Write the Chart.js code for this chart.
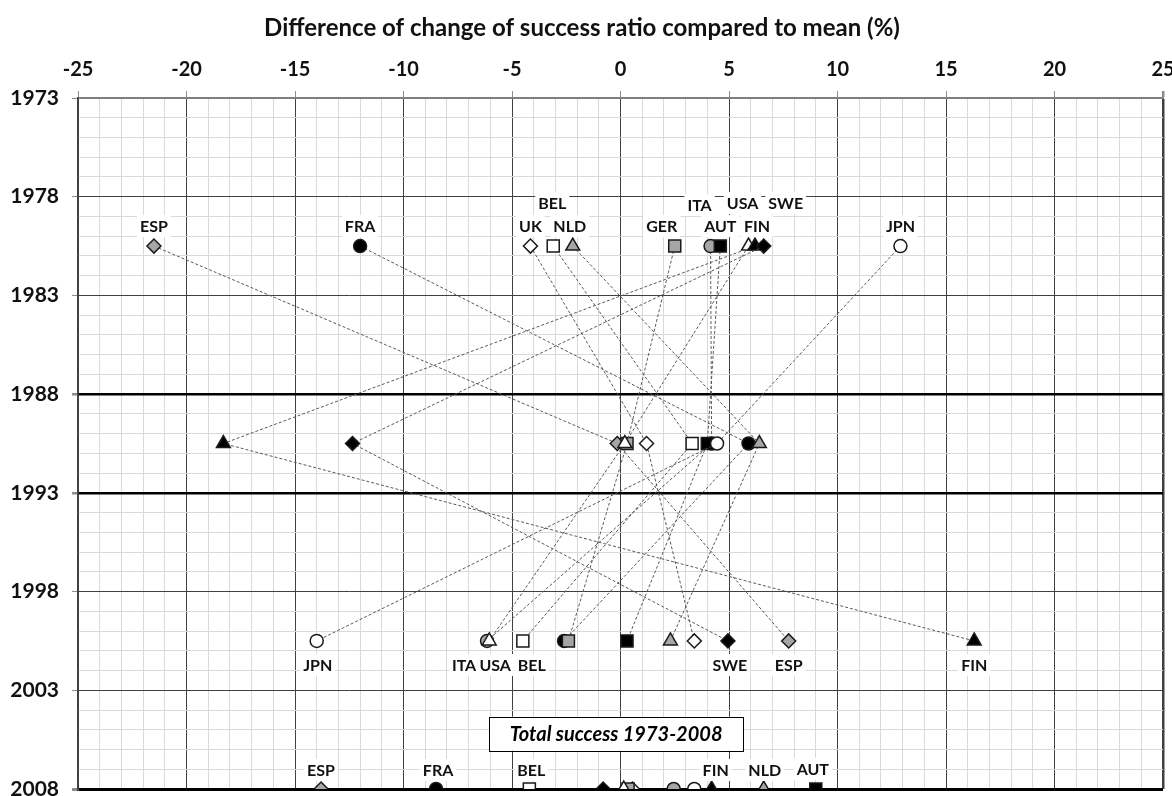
<!DOCTYPE html>
<html>
<head>
<meta charset="utf-8">
<title>Difference of change of success ratio</title>
<script src="https://cdn.jsdelivr.net/npm/chart.js@4.4.1/dist/chart.umd.min.js"></script>
<style>
    html, body { margin: 0; padding: 0; background: #fff; }
    #wrap { width: 1172px; height: 796px; position: relative; }
</style>
</head>
<body>
<div id="wrap"><canvas id="chart"></canvas></div>
<script>
// ---- Data ----
const countries = ['ESP', 'FRA', 'UK', 'BEL', 'NLD', 'GER', 'ITA', 'AUT', 'USA', 'FIN', 'SWE', 'JPN'];
const periodYears = [1980.5, 1990.5, 2000.5];
const totalYear = 2008;

// change of success ratio vs mean (%), one value per country
const change1980s = [-21.5, -12.0, -4.15, -3.1, -2.2, 2.5, 4.15, 4.6, 5.9, 6.2, 6.6, 12.9];
const change1990s = [-0.15, 5.9, 1.2, 3.3, 6.4, 0.3, 4.2, 4.0, 0.2, -18.3, -12.35, 4.45];
const change2000s = [7.75, -2.6, 3.4, -4.5, 2.3, -2.4, -6.15, 0.3, -6.05, 16.3, 4.95, -14.0];
const totalSuccess = [-13.8, -8.5, 0.55, -4.2, 6.6, 0.35, 2.45, 9.0, 0.15, 4.2, -0.8, 3.4];

const xTickLabels = [-25, -20, -15, -10, -5, 0, 5, 10, 15, 20, 25];
const yearTickLabels = [1973, 1978, 1983, 1988, 1993, 1998, 2003, 2008];
const periodBreaks = [1988, 1993];

const titleText = 'Difference of change of success ratio compared to mean (%)';
const totalBoxText = 'Total success 1973-2008';

// ---- Styles ----
const FONT = 'Lato, "Open Sans", "DejaVu Sans", sans-serif';
const GRAY = '#a6a6a6';
const markerStyle = {
    ESP: { shape: 'rectRot', fill: GRAY, r: 7 },
    FRA: { shape: 'circle', fill: '#000', r: 6.5 },
    UK: { shape: 'rectRot', fill: '#fff', r: 7 },
    BEL: { shape: 'rect', fill: '#fff', r: 8.5 },
    NLD: { shape: 'triangle', fill: GRAY, r: 8 },
    GER: { shape: 'rect', fill: GRAY, r: 8.5 },
    ITA: { shape: 'circle', fill: GRAY, r: 6.5 },
    AUT: { shape: 'rect', fill: '#000', r: 8.5 },
    USA: { shape: 'triangle', fill: '#fff', r: 8 },
    FIN: { shape: 'triangle', fill: '#000', r: 8 },
    SWE: { shape: 'rectRot', fill: '#000', r: 7 },
    JPN: { shape: 'circle', fill: '#fff', r: 6.5 }
};

// where the country names sit: [country, row, dx, dy] in pixels from the marker
const labelLayout = [
    ['ESP', 1980.5, 0, -20], ['FRA', 1980.5, 0, -20], ['UK', 1980.5, 0, -20],
    ['NLD', 1980.5, -3, -20], ['GER', 1980.5, -13, -20], ['AUT', 1980.5, 0, -20],
    ['FIN', 1980.5, 2, -20], ['JPN', 1980.5, 0, -20],
    ['BEL', 1980.5, -1, -43], ['ITA', 1980.5, -11, -41], ['USA', 1980.5, -6, -43], ['SWE', 1980.5, 22, -43],
    ['JPN', 2000.5, 1, 24], ['ITA', 2000.5, -23, 24], ['USA', 2000.5, 6, 24], ['BEL', 2000.5, 9, 24],
    ['SWE', 2000.5, 2, 24], ['ESP', 2000.5, 0, 24], ['FIN', 2000.5, 0, 24],
    ['ESP', 2008, 0, -19], ['FRA', 2008, 2, -19], ['BEL', 2008, 2, -19],
    ['FIN', 2008, 4, -19], ['NLD', 2008, 1, -19], ['AUT', 2008, -3, -20]
];

const seriesByRow = {
    1980.5: change1980s,
    1990.5: change1990s,
    2000.5: change2000s,
    2008: totalSuccess
};

/**
 * Build datasets: one dashed path per country plus its total marker
 */
function buildDatasets() {
    const sets = [];
    countries.forEach((c, i) => {
        const st = markerStyle[c];
        const common = {
            label: c,
            pointStyle: st.shape,
            pointRadius: st.r,
            pointHoverRadius: st.r,
            pointBackgroundColor: st.fill,
            pointBorderColor: '#1a1a1a',
            pointBorderWidth: 1.5,
            order: countries.length - i
        };
        sets.push({
            ...common,
            data: periodYears.map(y => ({ x: seriesByRow[y][i], y })),
            showLine: true,
            borderColor: '#595959',
            borderWidth: 1,
            borderDash: [3, 2]
        });
        sets.push({
            ...common,
            label: c + ' total',
            data: [{ x: totalSuccess[i], y: totalYear }],
            showLine: false
        });
    });
    return sets;
}

const isMajorX = v => xTickLabels.includes(v);
const isMajorY = v => yearTickLabels.includes(v);

// title, country names with white boxes, and the "Total success" box
const annotationPlugin = {
    id: 'countryLabels',
    afterDatasetsDraw(chart) {
        const { ctx, scales: { x, y } } = chart;
        ctx.save();
        ctx.textAlign = 'center';
        ctx.textBaseline = 'middle';

        ctx.font = `bold 24px ${FONT}`;
        ctx.fillStyle = '#111';
        ctx.fillText(titleText, 582, 28);

        ctx.font = `bold 16px ${FONT}`;
        labelLayout.forEach(([c, row, dx, dy]) => {
            const i = countries.indexOf(c);
            const px = x.getPixelForValue(seriesByRow[row][i]) + dx;
            const py = y.getPixelForValue(row) + dy;
            const w = ctx.measureText(c).width + 6;
            ctx.fillStyle = '#fff';
            ctx.fillRect(px - w / 2, py - 11, w, 22);
            ctx.fillStyle = '#111';
            ctx.fillText(c, px, py + 1);
        });

        // Total success box
        const bx = x.getPixelForValue(-0.2);
        const by = y.getPixelForValue(2005.2);
        const bw = 254, bh = 34;
        ctx.fillStyle = '#fff';
        ctx.fillRect(bx - bw / 2, by - bh / 2, bw, bh);
        ctx.strokeStyle = '#000';
        ctx.lineWidth = 1;
        ctx.strokeRect(Math.round(bx - bw / 2) + 0.5, Math.round(by - bh / 2) + 0.5, bw, bh);
        ctx.font = `italic bold 20px ${FONT}`;
        ctx.fillStyle = '#000';
        ctx.fillText(totalBoxText, bx, by + 1);
        ctx.restore();
    }
};

document.addEventListener('DOMContentLoaded', () => {
    const ctx = document.getElementById('chart');
    new Chart(ctx, {
        type: 'scatter',
        data: { datasets: buildDatasets() },
        options: {
            responsive: true,
            maintainAspectRatio: false,
            animation: false,
            layout: {
                autoPadding: false,
                padding: { top: 0, left: 0, right: 9, bottom: 7 }
            },
            plugins: {
                legend: { display: false },
                tooltip: { enabled: false }
            },
            scales: {
                x: {
                    type: 'linear',
                    position: 'top',
                    min: -25,
                    max: 25,
                    afterFit: s => {
                        s.height = 98;
                        s.paddingLeft = 0;
                        s.paddingRight = 0;
                    },
                    ticks: {
                        stepSize: 1,
                        autoSkip: false,
                        maxRotation: 0,
                        padding: 9,
                        color: '#111',
                        font: { family: FONT, size: 20, weight: 'bold' },
                        callback: v => isMajorX(v) ? v : ''
                    },
                    grid: {
                        color: c => c.tick && isMajorX(c.tick.value) ? '#404040' : '#d9d9d9',
                        lineWidth: c => c.tick && c.tick.value === 25 ? 2.5 : 1,
                        tickColor: c => c.tick && isMajorX(c.tick.value) ? '#8c8c8c' : 'rgba(0,0,0,0)',
                        tickLength: 7
                    },
                    border: { color: '#808080', width: 2 }
                },
                y: {
                    type: 'linear',
                    reverse: true,
                    min: 1973,
                    max: 2008,
                    afterFit: s => {
                        s.width = 78;
                        s.paddingTop = 0;
                        s.paddingBottom = 0;
                    },
                    ticks: {
                        stepSize: 1,
                        autoSkip: false,
                        padding: 13,
                        color: '#111',
                        font: { family: FONT, size: 21, weight: 'bold' },
                        callback: v => isMajorY(v) ? String(v) : ''
                    },
                    grid: {
                        color: c => {
                            if (!c.tick) return '#d9d9d9';
                            const v = c.tick.value;
                            if (periodBreaks.includes(v) || v === 2008) return '#000';
                            return isMajorY(v) ? '#404040' : '#d9d9d9';
                        },
                        lineWidth: c => {
                            if (!c.tick) return 1;
                            const v = c.tick.value;
                            if (v === 2008) return 3;
                            return periodBreaks.includes(v) ? 2.5 : 1;
                        },
                        tickColor: c => c.tick && isMajorY(c.tick.value) ? '#8c8c8c' : 'rgba(0,0,0,0)',
                        tickLength: 6
                    },
                    border: { color: '#404040', width: 1.5 }
                }
            }
        },
        plugins: [annotationPlugin]
    });
});
</script>
</body>
</html>
